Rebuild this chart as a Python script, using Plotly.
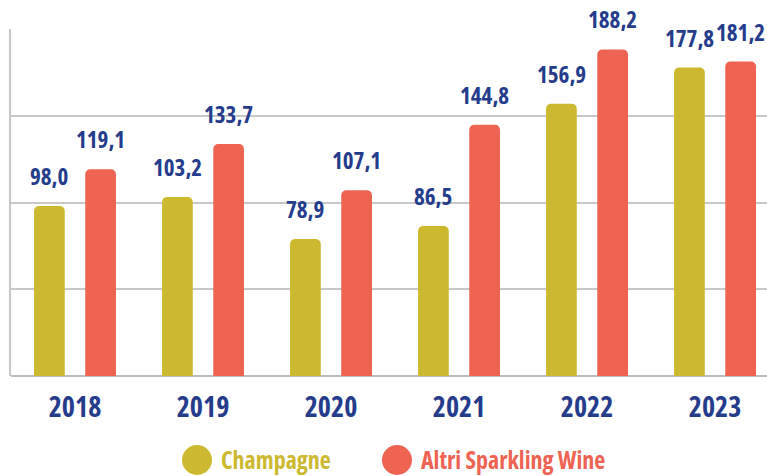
import plotly.graph_objects as go

years = ['2018', '2019', '2020', '2021', '2022', '2023']
champagne = [98.0, 103.2, 78.9, 86.5, 156.9, 177.8]
sparkling = [119.1, 133.7, 107.1, 144.8, 188.2, 181.2]

col_champ = '#CDB92F'
col_spark = '#EE6352'
col_blue = '#253C8C'
font_name = 'Open Sans'

def cond(s):
    # condensed look, close to the original narrow typeface
    return '<span style="font-stretch:75%">' + s + '</span>'

def fmt(v):
    return f'{v:.1f}'.replace('.', ',')

x_pos = list(range(len(years)))

fig = go.Figure()

fig.add_trace(go.Bar(x=x_pos, y=champagne, width=0.24, offset=-0.32,
                     marker=dict(color=col_champ, line=dict(width=0)),
                     name='Champagne', showlegend=False, hoverinfo='y'))
fig.add_trace(go.Bar(x=x_pos, y=sparkling, width=0.24, offset=0.08,
                     marker=dict(color=col_spark, line=dict(width=0)),
                     name='Altri Sparkling Wine', showlegend=False, hoverinfo='y'))

# value labels above the bars
for i in x_pos:
    for dx, v in [(-0.2, champagne[i]), (0.2, sparkling[i])]:
        fig.add_annotation(x=i + dx, y=v, text=cond(fmt(v)), showarrow=False,
                           xref='x', yref='y', yanchor='bottom', yshift=12,
                           font=dict(family=font_name, size=23, color=col_blue, weight='bold'))

# legend drawn by hand (large circles + coloured text)
legend = [(197, 'Champagne', col_champ), (397, 'Altri Sparkling Wine', col_spark)]
for cx, label, col in legend:
    fig.add_shape(type='circle', xref='paper', yref='paper',
                  x0=(cx - 15 - 11) / 756, x1=(cx + 15 - 11) / 756,
                  y0=(376 - 475) / 347, y1=(376 - 445) / 347,
                  fillcolor=col, line=dict(width=0))
    fig.add_annotation(x=(cx + 23 - 11) / 756, y=(376 - 459) / 347, xref='paper', yref='paper',
                       text=cond(label), showarrow=False, borderpad=0,
                       xanchor='left', yanchor='middle',
                       font=dict(family=font_name, size=24, color=col, weight='bold'))

fig.update_layout(
    width=767, height=476,
    margin=dict(l=11, r=0, t=29, b=100),
    paper_bgcolor='white', plot_bgcolor='white',
    barmode='overlay', barcornerradius=5,
    showlegend=False,
    xaxis=dict(range=[-0.5, 5.406], tickvals=x_pos, ticktext=[cond(y) for y in years],
               tickfont=dict(family=font_name, size=28, color=col_blue, weight='bold'),
               showgrid=False, zeroline=False, showline=False, ticks='', ticklabelstandoff=12),
    yaxis=dict(range=[0, 200], dtick=50, showticklabels=False,
               showgrid=True, gridcolor='#C8C8C8', gridwidth=1.5,
               zeroline=True, zerolinecolor='#BDBDBD', zerolinewidth=1.5,
               showline=True, linecolor='#C8C8C8', linewidth=1.5, ticks=''),
)

fig.write_html('out.html', config={'displayModeBar': False},
               post_script="document.body.style.margin='0';")
